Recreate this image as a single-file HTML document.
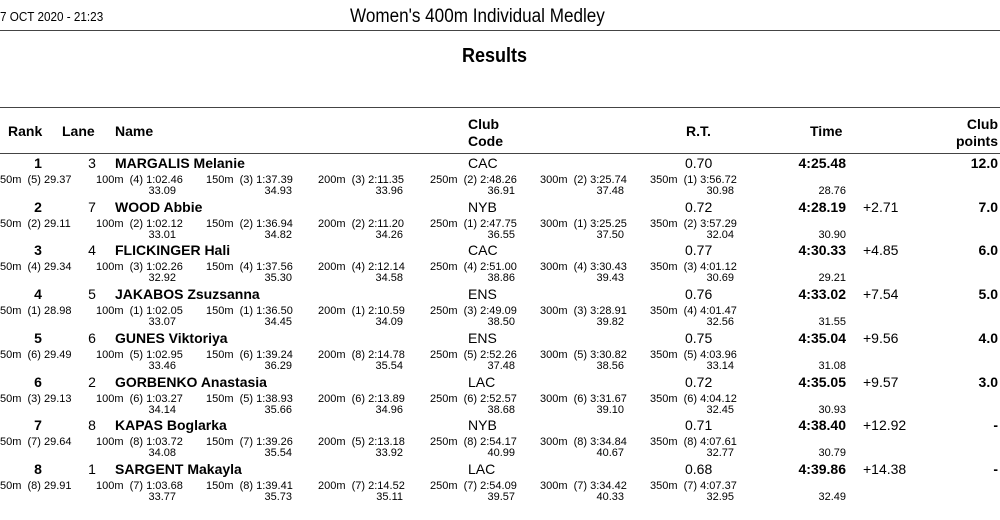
<!DOCTYPE html>
<html><head><meta charset="utf-8"><style>
body{margin:0;width:1000px;height:520px;background:#fff;position:relative;overflow:hidden;font-family:"Liberation Sans",Arial,sans-serif;color:#000}
.a{position:absolute;white-space:nowrap;line-height:1}
.m{font-size:14px}.b{font-weight:bold}.s{font-size:11px}
.hr{position:absolute;left:0;width:1000px;background:#444}
</style></head><body>
<div class="a" style="left:0;top:10px;font-size:13px;transform:scaleX(.9);transform-origin:left">7 OCT 2020 - 21:23</div>
<div class="a" style="left:350px;top:7px;font-size:19px;transform:scaleX(.9);transform-origin:left">Women's 400m Individual Medley</div>
<div class="hr" style="top:30px;height:1px"></div>
<div class="a b" style="left:462px;top:46px;font-size:20px;transform:scaleX(.9);transform-origin:left">Results</div>
<div class="hr" style="top:107px;height:1px"></div>
<div class="a m b" style="left:8px;top:124px">Rank</div>
<div class="a m b" style="left:62px;top:124px">Lane</div>
<div class="a m b" style="left:115px;top:124px">Name</div>
<div class="a m b" style="left:468px;top:116px;line-height:17px">Club<br>Code</div>
<div class="a m b" style="left:686px;top:124px">R.T.</div>
<div class="a m b" style="left:810px;top:124px">Time</div>
<div class="a m b" style="right:2px;top:116px;line-height:17px;text-align:right">Club<br>points</div>
<div class="hr" style="top:153px;height:1px"></div>
<div id="rows"></div>
<script>
const ranks=["1","2","3","4","5","6","7","8"];
const lanes=["3","7","4","5","6","2","8","1"];
const names=["MARGALIS Melanie","WOOD Abbie","FLICKINGER Hali","JAKABOS Zsuzsanna","GUNES Viktoriya","GORBENKO Anastasia","KAPAS Boglarka","SARGENT Makayla"];
const clubs=["CAC","NYB","CAC","ENS","ENS","LAC","NYB","LAC"];
const rts=["0.70","0.72","0.77","0.76","0.75","0.72","0.71","0.68"];
const times=["4:25.48","4:28.19","4:30.33","4:33.02","4:35.04","4:35.05","4:38.40","4:39.86"];
const diffs=["","+2.71","+4.85","+7.54","+9.56","+9.57","+12.92","+14.38"];
const points=["12.0","7.0","6.0","5.0","4.0","3.0","-","-"];
const splits=[
["(5) 29.37","(4) 1:02.46","(3) 1:37.39","(3) 2:11.35","(2) 2:48.26","(2) 3:25.74","(1) 3:56.72"],
["(2) 29.11","(2) 1:02.12","(2) 1:36.94","(2) 2:11.20","(1) 2:47.75","(1) 3:25.25","(2) 3:57.29"],
["(4) 29.34","(3) 1:02.26","(4) 1:37.56","(4) 2:12.14","(4) 2:51.00","(4) 3:30.43","(3) 4:01.12"],
["(1) 28.98","(1) 1:02.05","(1) 1:36.50","(1) 2:10.59","(3) 2:49.09","(3) 3:28.91","(4) 4:01.47"],
["(6) 29.49","(5) 1:02.95","(6) 1:39.24","(8) 2:14.78","(5) 2:52.26","(5) 3:30.82","(5) 4:03.96"],
["(3) 29.13","(6) 1:03.27","(5) 1:38.93","(6) 2:13.89","(6) 2:52.57","(6) 3:31.67","(6) 4:04.12"],
["(7) 29.64","(8) 1:03.72","(7) 1:39.26","(5) 2:13.18","(8) 2:54.17","(8) 3:34.84","(8) 4:07.61"],
["(8) 29.91","(7) 1:03.68","(8) 1:39.41","(7) 2:14.52","(7) 2:54.09","(7) 3:34.42","(7) 4:07.37"]];
const laps=[
["33.09","34.93","33.96","36.91","37.48","30.98","28.76"],
["33.01","34.82","34.26","36.55","37.50","32.04","30.90"],
["32.92","35.30","34.58","38.86","39.43","30.69","29.21"],
["33.07","34.45","34.09","38.50","39.82","32.56","31.55"],
["33.46","36.29","35.54","37.48","38.56","33.14","31.08"],
["34.14","35.66","34.96","38.68","39.10","32.45","30.93"],
["34.08","35.54","33.92","40.99","40.67","32.77","30.79"],
["33.77","35.73","35.11","39.57","40.33","32.95","32.49"]];
const dist=["50m","100m","150m","200m","250m","300m","350m"];
const splitX=[0,96,206,318,430,540,650];
const lapRight=[176,292,403,515,624,734,846];
const root=document.getElementById('rows');
function add(txt,cls,style,name){const d=document.createElement('div');d.className='a '+cls;d.style.cssText=style;d.textContent=txt;


root.appendChild(d);}
for(let i=0;i<8;i++){
 const y=156+i*43.7;
 add(ranks[i],'m b',`left:18px;width:40px;text-align:center;top:${y}px`,'rank');
 add(lanes[i],'m',`left:82px;width:20px;text-align:center;top:${y}px`,'lane');
 add(names[i],'m b',`left:115px;top:${y}px`,'athlete-name');
 add(clubs[i],'m',`left:468px;top:${y}px`,'club-code');
 add(rts[i],'m',`left:685px;top:${y}px`,'reaction-time');
 add(times[i],'m b',`right:${1000-846}px;top:${y}px`,'final-time');
 if(diffs[i])add(diffs[i],'m',`left:863px;top:${y}px`,'time-behind');
 add(points[i],'m b',`right:2px;top:${y}px`,'club-points');
 for(let k=0;k<7;k++){
  add(dist[k]+'  '+splits[i][k],'s',`left:${splitX[k]}px;top:${y+19}px;white-space:pre`,'split-time');
  add(laps[i][k],'s',`right:${1000-lapRight[k]}px;top:${y+30}px`,'lap-time');
 }
}
</script>
</body></html>
